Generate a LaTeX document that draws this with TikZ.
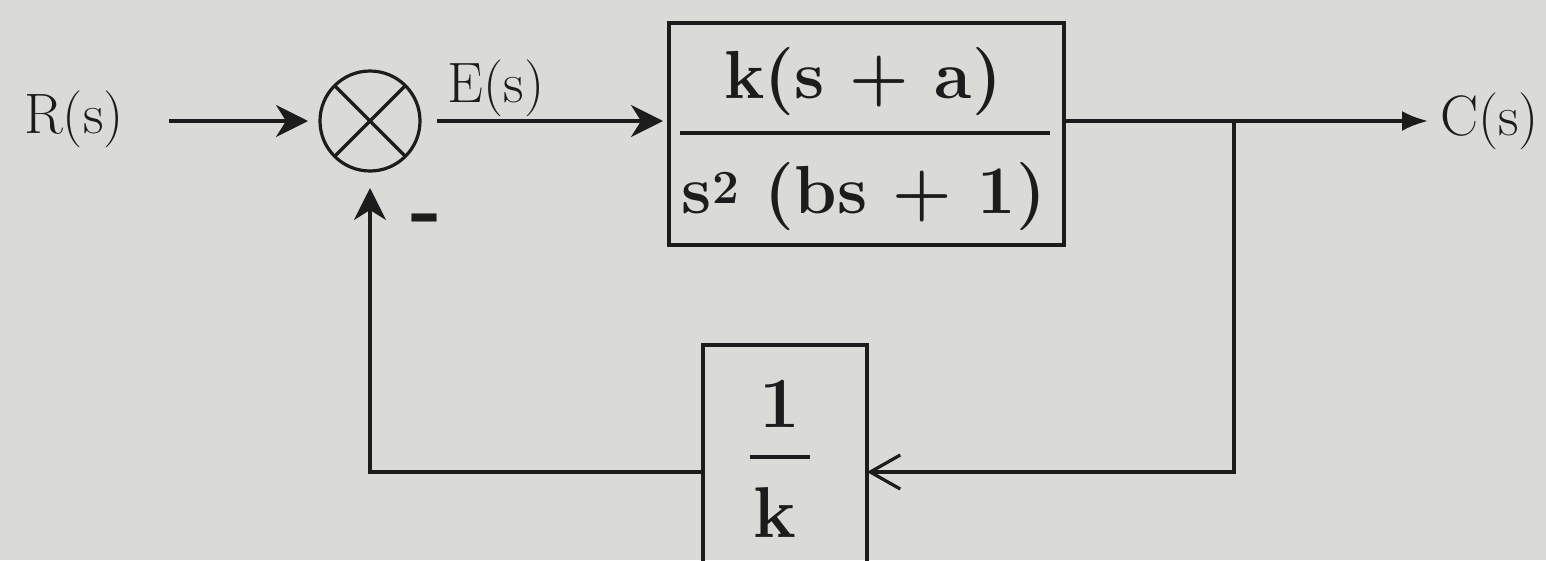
\documentclass[tikz,border=0pt]{standalone}
\usepackage{fontspec}
\usetikzlibrary{arrows.meta}
\newfontfamily\heavyfont{DejaVu Sans}
\definecolor{paper}{RGB}{218,218,215}
\definecolor{ink}{RGB}{28,28,28}
\begin{document}
\begin{tikzpicture}[x=1pt,y=-1pt,
  wire/.style={draw=ink, line width=3.2pt},
  lbl/.style={inner sep=0pt, outer sep=0pt, font=\fontsize{57}{68}\selectfont, text=ink},
  big/.style={inner sep=0pt, outer sep=0pt, font=\fontsize{68}{80}\selectfont\bfseries, text=ink},
  huge/.style={inner sep=0pt, outer sep=0pt, font=\fontsize{72}{84}\selectfont\bfseries, text=ink},
  blk/.style={draw=ink, line width=3.2pt, inner sep=0pt, outer sep=0pt},
  arr/.style={wire, -{Stealth[length=32pt,width=32pt,inset=10pt]}},
  outarr/.style={wire, -{Latex[length=26pt,width=20pt]}},
  fbarr/.style={wire, -{Straight Barb[length=30pt,width=34pt]}}]
\useasboundingbox (0,0) rectangle (1546,560);
\fill[paper] (0,0) rectangle (1546,560);
\clip (0,0) rectangle (1546,560);

% labels
\node[lbl, anchor=base] (R) at (74,133) {R(s)};
\node[lbl, anchor=base] (E) at (496,102) {E(s)};
\node[lbl, anchor=base west] (C) at (1440,135) {C(s)};

% summing junction
\node[blk, circle, minimum size=100pt] (sum) at (370,121) {};
\draw[wire] (sum.north west) -- (sum.south east);
\draw[wire] (sum.north east) -- (sum.south west);
\node[inner sep=0pt, outer sep=0pt, text=ink, anchor=base,
      font=\fontsize{64}{70}\selectfont\heavyfont\bfseries] (minus) at (424,235) {–};

% forward block
\node[blk, rectangle, minimum width=395pt, minimum height=222pt] (G) at (866.5,134) {};
\node[big, anchor=base] (Gnum) at (863,98) {k(s + a)};
\node[big, anchor=base] (Gden) at (864,213) {s\textsuperscript{2} (bs + 1)};
\coordinate (Gbl) at (680,133);
\coordinate (Gbr) at (1050,133);
\draw[wire] (Gbl) -- (Gbr);

% feedback block
\node[blk, rectangle, minimum width=164pt, minimum height=254pt] (H) at (785,472) {};
\node[huge, anchor=base] (Hnum) at (780,427) {1};
\node[huge, anchor=base] (Hden) at (775,537) {k};
\coordinate (Hbl) at (750,457);
\coordinate (Hbr) at (810,457);
\draw[wire] (Hbl) -- (Hbr);

% connectors
\coordinate (br) at (1234,121);
\draw[arr, shorten <=45pt, shorten >=12pt] (R.east |- sum.west) -- (sum.west);
\draw[arr, shorten <=17pt, shorten >=6pt] (sum.east) -- (sum.east -| G.west);
\draw[outarr, shorten >=12pt] (sum.east -| G.east) -- (sum.east -| C.west);
\draw[fbarr] (br) |- (H.east);
\draw[arr, shorten >=17pt] (H.west) -| (sum.south);
\end{tikzpicture}
\end{document}
